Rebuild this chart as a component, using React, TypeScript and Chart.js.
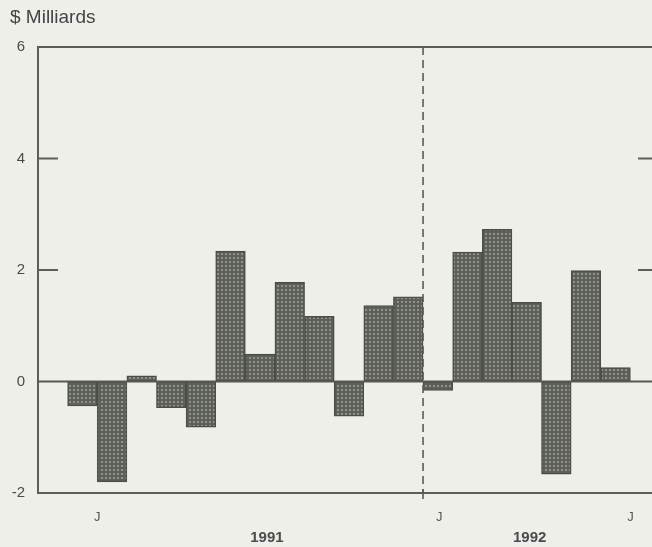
import { useEffect, useRef } from 'react';
import { Chart, registerables } from 'chart.js';

Chart.register(...registerables);

// Monthly values, Jan 1991 .. Jul 1992 ($ milliards)
const months = [
  'Jan 1991', 'Feb 1991', 'Mar 1991', 'Apr 1991', 'May 1991', 'Jun 1991',
  'Jul 1991', 'Aug 1991', 'Sep 1991', 'Oct 1991', 'Nov 1991', 'Dec 1991',
  'Jan 1992', 'Feb 1992', 'Mar 1992', 'Apr 1992', 'May 1992', 'Jun 1992', 'Jul 1992',
];
const values = [
  -0.44, -1.8, 0.1, -0.47, -0.82, 2.34, 0.49, 1.78, 1.17, -0.62, 1.36, 1.52,
  -0.16, 2.32, 2.73, 1.42, -1.66, 1.99, 0.25,
];

const yTickValues = [-2, 0, 2, 4, 6];
const monthTickPositions = [1.5, 13.05, 19.5];
const monthTickLabels = ['J', 'J', 'J'];
const yearTickPositions = [7.23, 16.1];
const yearTickLabels = ['1991', '1992'];
const innerTickValues = [2, 4];
const yearBoundary = 12.5;
const titleText = '$ Milliards';

const FONT = "'Liberation Sans', Arial, Helvetica, sans-serif";

function makePattern(): CanvasPattern | string {
  const c = document.createElement('canvas');
  c.width = 4;
  c.height = 4;
  const g = c.getContext('2d');
  if (!g) return '#6b6d68';
  g.fillStyle = '#5d605a';
  g.fillRect(0, 0, 4, 4);
  g.fillStyle = '#8f918b';
  g.fillRect(1, 1, 2, 2);
  return g.createPattern(c, 'repeat') || '#6b6d68';
}

const decorPlugin = {
  id: 'decor',
  afterDatasetsDraw(chart: any) {
    const { ctx, chartArea: a, scales } = chart;
    const x = scales.x;
    const y = scales.y;
    ctx.save();
    ctx.strokeStyle = '#5c5d59';
    ctx.lineWidth = 2;
    ctx.setLineDash([]);
    ctx.strokeRect(a.left, a.top, a.right - a.left, a.bottom - a.top);

    const y0 = y.getPixelForValue(0);
    ctx.strokeStyle = '#575854';
    ctx.beginPath();
    ctx.moveTo(a.left, y0);
    ctx.lineTo(a.right, y0);
    ctx.stroke();

    ctx.strokeStyle = '#5c5d59';
    for (const v of innerTickValues) {
      const py = y.getPixelForValue(v);
      ctx.beginPath();
      ctx.moveTo(a.left, py);
      ctx.lineTo(a.left + 20, py);
      ctx.moveTo(a.right - 22, py);
      ctx.lineTo(a.right, py);
      ctx.stroke();
    }

    const xb = x.getPixelForValue(yearBoundary);
    ctx.lineWidth = 1.6;
    ctx.strokeStyle = '#5a5b57';
    ctx.setLineDash([8, 5]);
    ctx.beginPath();
    ctx.moveTo(xb, a.top);
    ctx.lineTo(xb, a.bottom);
    ctx.stroke();
    ctx.setLineDash([]);
    ctx.beginPath();
    ctx.moveTo(xb, a.bottom - 4);
    ctx.lineTo(xb, a.bottom + 6);
    ctx.stroke();
    ctx.restore();
  },
};

export default function App() {
  const ref = useRef<HTMLCanvasElement | null>(null);

  useEffect(() => {
    if (!ref.current) return;
    const pattern = makePattern();
    const chart = new Chart(ref.current, {
      type: 'bar',
      data: {
        datasets: [
          {
            label: 'Solde',
            data: values.map((v, i) => ({ x: i + 1, y: v, m: months[i] })) as any,
            backgroundColor: pattern as any,
            borderColor: '#4b4d48',
            borderWidth: 1.5,
            borderSkipped: false,
            barPercentage: 1,
            categoryPercentage: 1,
          },
        ],
      },
      options: {
        responsive: false,
        animation: false,
        layout: { padding: { left: 10, right: 20, top: 0, bottom: 0 } },
        plugins: {
          legend: { display: false },
          tooltip: { enabled: false },
          title: {
            display: true,
            text: titleText,
            align: 'start',
            color: '#444',
            font: { family: FONT, size: 19, weight: 'normal' },
            padding: { top: 6, bottom: 18.2 },
          },
        },
        scales: {
          x: {
            type: 'linear',
            position: 'bottom',
            offset: false,
            min: -0.5,
            max: 20.5,
            grid: { display: false, drawTicks: false, offset: false },
            border: { display: false },
            afterBuildTicks: (scale: any) => {
              scale.ticks = monthTickPositions.map((v) => ({ value: v }));
            },
            afterFit: (scale: any) => {
              scale.height = 35;
            },
            ticks: {
              autoSkip: false,
              maxRotation: 0,
              minRotation: 0,
              padding: 17,
              color: '#555',
              font: { family: FONT, size: 13 },
              callback: (_v: any, i: number) => monthTickLabels[i],
            },
          },
          x2: {
            type: 'linear',
            position: 'bottom',
            offset: false,
            min: -0.5,
            max: 20.5,
            grid: { display: false, drawTicks: false, offset: false },
            border: { display: false },
            afterBuildTicks: (scale: any) => {
              scale.ticks = yearTickPositions.map((v) => ({ value: v }));
            },
            afterFit: (scale: any) => {
              scale.height = 19;
            },
            ticks: {
              autoSkip: false,
              maxRotation: 0,
              minRotation: 0,
              padding: 1,
              color: '#4a4a4a',
              font: { family: FONT, size: 15, weight: 'bold' },
              callback: (_v: any, i: number) => yearTickLabels[i],
            },
          },
          y: {
            type: 'linear',
            position: 'left',
            min: -2,
            max: 6,
            grid: { display: false, drawTicks: false },
            border: { display: false },
            afterBuildTicks: (scale: any) => {
              scale.ticks = yTickValues.map((v) => ({ value: v }));
            },
            afterFit: (scale: any) => {
              scale.width = 28;
            },
            ticks: {
              padding: 13,
              color: '#4a4a4a',
              font: { family: FONT, size: 15 },
              callback: (v: any) => String(v),
            },
          },
        },
      },
      plugins: [decorPlugin],
    });
    return () => chart.destroy();
  }, []);

  return (
    <div
      style={{
        position: 'fixed',
        left: 0,
        top: 0,
        width: 652,
        height: 547,
        overflow: 'hidden',
        background: '#efefea',
      }}
    >
      <canvas ref={ref} width={680} height={547} style={{ display: 'block', width: 680, height: 547 }} />
    </div>
  );
}
